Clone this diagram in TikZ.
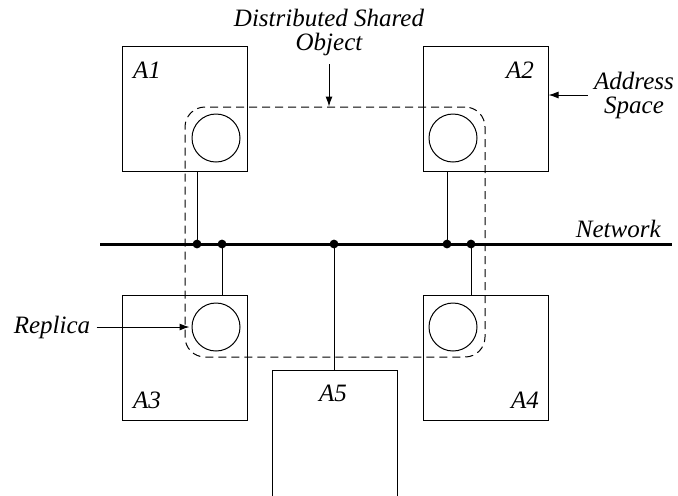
\documentclass[tikz,border=0pt]{standalone}
\usepackage{fontspec}
\setmainfont{Liberation Serif}
\usepackage{tikz}
\usetikzlibrary{arrows.meta,positioning}

\begin{document}
\begin{tikzpicture}[
    x=0.5pt, y=-0.5pt,
    host/.style={draw, line width=0.5pt, minimum width=62.5pt, minimum height=62.5pt, inner sep=0pt},
    replica/.style={draw, circle, line width=0.5pt, minimum size=24pt, inner sep=0pt},
    group/.style={draw, dash pattern=on 4pt off 2.5pt, line width=0.5pt, rounded corners=10pt, minimum width=150pt, minimum height=125pt, inner sep=0pt},
    note/.style={font=\fontsize{12.5}{12}\selectfont\itshape, inner sep=1pt, align=center},
    arrow/.style={-{Latex[length=5pt,width=3.5pt]}, line width=0.5pt},
    bus/.style={line width=1.5pt},
    wire/.style={line width=0.5pt}
  ]
    \useasboundingbox (0,0) rectangle (678,495);
    % address spaces
    \node[host] (a1) at (184.5,108.5) {};
    \node[host] (a2) at (485.5,108.5) {};
    \node[host] (a3) at (184.5,357.5) {};
    \node[host] (a4) at (485.5,357.5) {};
    \node[host, minimum height=65pt] (a5) at (335,435) {};
    \node[note] at (147,70) {A1};
    \node[note] at (520,70) {A2};
    \node[note] at (147,400) {A3};
    \node[note] at (525,400) {A4};
    \node[note] at (333,393) {A5};
    % replicas
    \node[replica] (r1) at (216,138) {};
    \node[replica] (r2) at (453,138) {};
    \node[replica] (r3) at (216,327) {};
    \node[replica] (r4) at (453,327) {};
    \node[group] (dso) at (335,232) {};
    % network
    \coordinate (netw) at (100,244);
    \coordinate (nete) at (672,244);
    \draw[bus] (netw) -- (nete);
    \node[note, anchor=base east] (netlbl) at (663,237) {Network};
    \coordinate (j1) at (197,244);
    \coordinate (j2) at (222,244);
    \coordinate (j3) at (334,244);
    \coordinate (j4) at (447,244);
    \coordinate (j5) at (471,244);
    \draw[wire] (j1) -- (j1 |- a1.south);
    \draw[wire] (j2) -- (j2 |- a3.north);
    \draw[wire] (j3) -- (j3 |- a5.north);
    \draw[wire] (j4) -- (j4 |- a2.south);
    \draw[wire] (j5) -- (j5 |- a4.north);
    \foreach \j in {j1,j2,j3,j4,j5}
      \fill (\j) circle (2.2pt);
    % labels
    \node[note, anchor=south] (dsolbl) at (329,58) {Distributed Shared\\Object};
    \node[note] (aslbl) at (634,95) {Address\\Space};
    \node[note] (replbl) at (52,327) {Replica};
    \draw[arrow, shorten <=3pt] (dsolbl.south) -- (dsolbl.south |- dso.north);
    \draw[arrow, shorten <=2pt] (aslbl.west) -- (aslbl.west -| a2.east);
    \draw[arrow, shorten <=2pt, shorten >=1pt] (replbl.east) -- (r3.west);
  \end{tikzpicture}
\end{document}
